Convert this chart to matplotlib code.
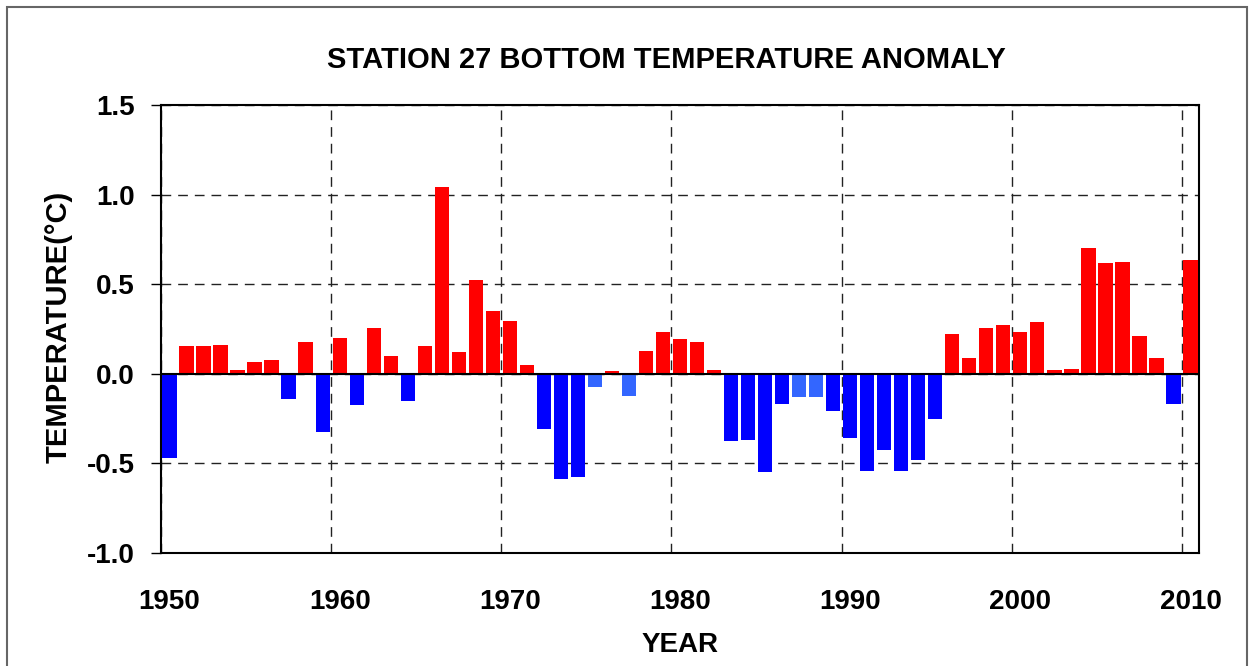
import matplotlib
matplotlib.use("Agg")
import matplotlib.pyplot as plt
from matplotlib.patches import Rectangle
import numpy as np

years = list(range(1950, 2011))
anomaly = [
    -0.470, 0.156, 0.156, 0.162, 0.022, 0.067, 0.078, -0.143, 0.179, -0.322,
    0.201, -0.173, 0.257, 0.100, -0.151, 0.156, 1.045, 0.123, 0.525, 0.352,
    0.296, 0.050, -0.306, -0.585, -0.574, -0.071, 0.013, -0.123, 0.129, 0.235,
    0.196, 0.179, 0.022, -0.377, -0.372, -0.550, -0.171, -0.132, -0.132, -0.205,
    -0.361, -0.545, -0.428, -0.545, -0.479, -0.255, 0.220, 0.090, 0.257, 0.274,
    0.235, 0.290, 0.022, 0.028, 0.703, 0.620, 0.626, 0.212, 0.090, -0.166,
    0.637,
]
light_years = [1975, 1977, 1987, 1988]
decades = [1950, 1960, 1970, 1980, 1990, 2000, 2010]
decade_labels = ["1950", "1960", "1970", "1980", "1990", "2000", "2010"]
yticks = [-1.0, -0.5, 0.0, 0.5, 1.0, 1.5]
ytick_labels = ["-1.0", "-0.5", "0.0", "0.5", "1.0", "1.5"]

RED = "#FF0000"
BLUE = "#0000FF"
LIGHT = "#3366FF"

plt.rcParams["font.family"] = ["Liberation Sans", "DejaVu Sans"]
plt.rcParams["font.weight"] = "bold"

W, H = 1249, 666
fig = plt.figure(figsize=(W / 100, H / 100), dpi=100)
ax = fig.add_axes([161 / W, 1 - 553 / H, (1199 - 161) / W, (553 - 105) / H])

colors = []
for y, v in zip(years, anomaly):
    if y in light_years:
        colors.append(LIGHT)
    elif v >= 0:
        colors.append(RED)
    else:
        colors.append(BLUE)

x = np.array(years) + 0.5
ax.bar(x, anomaly, width=0.84, color=colors, zorder=3, linewidth=0)
ax.axhline(0, color="black", lw=1.5, zorder=4)

ax.set_xlim(1950, 2011)
ax.set_ylim(-1.0, 1.5)

ax.set_xticks(decades)
ax.set_xticklabels([])
ax.set_xticks(np.array(decades) + 0.5, minor=True)
ax.set_xticklabels(decade_labels, minor=True, fontsize=20, fontweight="bold")
ax.tick_params(axis="x", which="both", length=0)
ax.tick_params(axis="x", which="minor", pad=26)

ax.set_yticks(yticks)
ax.set_yticklabels(ytick_labels, fontsize=20, fontweight="bold")
ax.tick_params(axis="y", direction="out", length=7, width=1, pad=12)

ax.grid(True, which="major", color="#222222", linestyle=(0, (7, 5)), lw=1.0, zorder=1)
ax.set_axisbelow(True)

for s in ax.spines.values():
    s.set_linewidth(1.5)
    s.set_color("black")

ax.set_ylabel("TEMPERATURE(°C)", fontsize=21, fontweight="bold")
ax.yaxis.set_label_coords(-0.085, 0.505)
ax.set_xlabel("YEAR", fontsize=20, fontweight="bold")
ax.xaxis.set_label_coords(0.5, -0.176)

fig.text(666 / W, 1 - 60 / H, "STATION 27 BOTTOM TEMPERATURE ANOMALY",
         ha="center", va="center", fontsize=21, fontweight="bold")

fig.patches.append(Rectangle((7 / W, -0.05), (1247 - 7) / W, 1.05 - 7 / H,
                             transform=fig.transFigure, fill=False,
                             edgecolor="#666666", lw=1.5))

fig.savefig("out.png", dpi=100)
